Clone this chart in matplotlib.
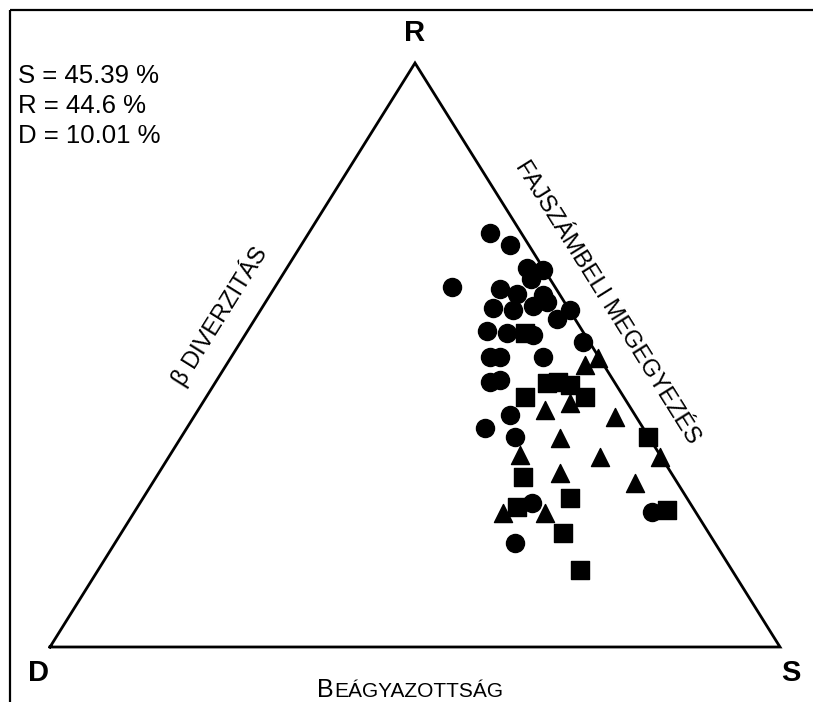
import matplotlib
matplotlib.use("Agg")
import matplotlib.pyplot as plt
import numpy as np

plt.rcParams["font.family"] = ["Liberation Sans", "DejaVu Sans"]

# summary percentages
summary_labels = ["S", "R", "D"]
summary_values = ["45.39", "44.6", "10.01"]

# ternary values (S %, R %), D = 100 - S - R
circle_S = [24.8, 28.6, 32.9, 35.3, 34.4, 24.2, 31.0, 33.8, 37.4, 31.7,
            34.6, 37.0, 38.5, 42.4, 41.4, 32.8, 35.7, 39.5, 46.9, 35.4,
            36.8, 42.7, 37.6, 38.8, 43.2, 40.8, 45.7, 53.7, 70.9, 54.8]
circle_R = [70.9, 68.8, 64.9, 64.6, 63.0, 61.6, 61.3, 60.4, 60.3, 58.0,
            57.7, 58.4, 59.1, 57.7, 56.2, 54.1, 53.8, 53.4, 52.2, 49.7,
            49.7, 49.7, 45.4, 45.7, 39.7, 37.5, 36.0, 24.7, 23.1, 17.8]

square_S = [38.2, 43.7, 45.5, 46.9, 48.8, 51.9, 63.9, 50.2, 58.5, 52.0,
            72.8, 60.5, 66.0]
square_R = [53.8, 42.8, 45.2, 45.4, 44.9, 42.8, 36.0, 29.1, 25.5, 24.0,
            23.5, 19.5, 13.2]

triangle_S = [50.3, 49.1, 50.3, 47.5, 57.7, 52.0, 47.9, 59.1, 67.3, 55.0,
              66.1, 50.6, 56.3]
triangle_R = [49.5, 48.3, 41.8, 40.6, 39.4, 35.8, 32.9, 32.5, 32.5, 29.8,
              28.1, 22.9, 22.9]

# triangle corners in pixel space
D_pt = np.array([50.0, 647.0])
S_pt = np.array([780.0, 647.0])
R_pt = np.array([415.0, 63.0])


def tern(s, r):
    s = np.asarray(s) / 100.0
    r = np.asarray(r) / 100.0
    d = 1 - s - r
    x = d * D_pt[0] + s * S_pt[0] + r * R_pt[0]
    y = d * D_pt[1] + s * S_pt[1] + r * R_pt[1]
    return x, y


fig = plt.figure(figsize=(8.13, 7.02), dpi=100)
ax = fig.add_axes([0, 0, 1, 1])
ax.set_xlim(0, 813)
ax.set_ylim(702, 0)
ax.axis("off")

# frame (top and left only)
ax.plot([10, 813], [10, 10], color="black", lw=1.6, solid_capstyle="butt")
ax.plot([10, 10], [10, 702], color="black", lw=1.6, solid_capstyle="butt")

# triangle
tx = [D_pt[0], S_pt[0], R_pt[0], D_pt[0]]
ty = [D_pt[1], S_pt[1], R_pt[1], D_pt[1]]
ax.plot(tx, ty, color="black", lw=2.0, solid_joinstyle="miter")

# points
ms = 13 ** 2
x, y = tern(circle_S, circle_R)
ax.scatter(x, y, s=ms, marker="o", color="black", zorder=3)
x, y = tern(square_S, square_R)
ax.scatter(x, y, s=ms, marker="s", color="black", zorder=3)
x, y = tern(triangle_S, triangle_R)
ax.scatter(x, y, s=ms, marker="^", color="black", zorder=3)

# corner labels
ax.text(415, 33, "R", fontsize=21, fontweight="bold", ha="center", va="center")
ax.text(38, 673, "D", fontsize=21, fontweight="bold", ha="center", va="center")
ax.text(791, 673, "S", fontsize=21, fontweight="bold", ha="center", va="center")

# summary text
for i, (lab, val) in enumerate(zip(summary_labels, summary_values)):
    ax.text(18, 76 + 30 * i, f"{lab} = {val} %", fontsize=18.5,
            ha="left", va="center")

# side labels
ang = np.degrees(np.arctan2(D_pt[1] - R_pt[1], R_pt[0] - D_pt[0]))
ax.text(219, 316, "β DIVERZITÁS", fontsize=17, rotation=ang,
        rotation_mode="anchor", ha="center", va="center")
ax.text(607, 302, "FAJSZÁMBELI MEGEGYEZÉS", fontsize=17, rotation=-ang,
        rotation_mode="anchor", ha="center", va="center")

# bottom label, small caps
ax.text(334, 697, "B", fontsize=18, ha="right", va="baseline")
ax.text(334, 697, "EÁGYAZOTTSÁG", fontsize=15, ha="left", va="baseline")

fig.savefig("out.png", dpi=100)
